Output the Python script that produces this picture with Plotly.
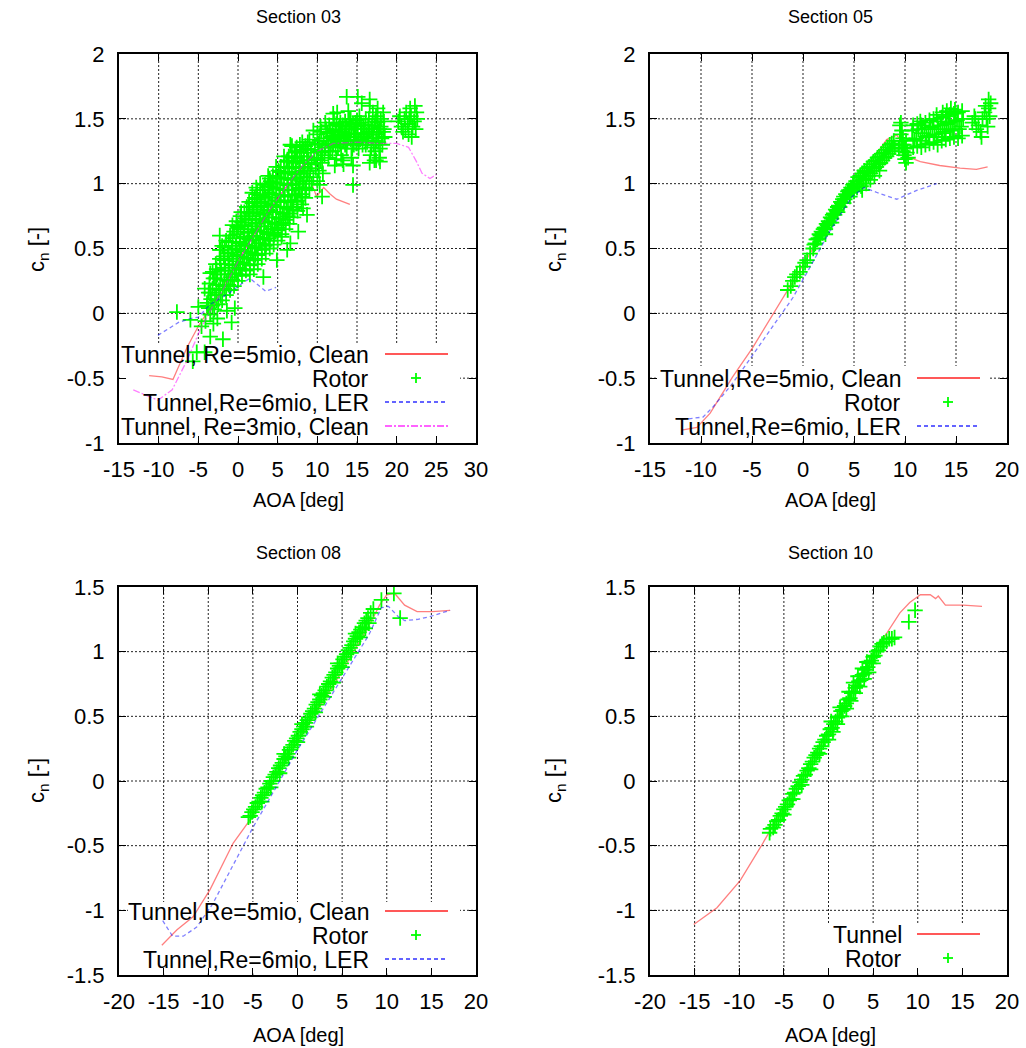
import plotly.graph_objects as go

W, H = 1026, 1048

# ---------------------------------------------------------------- tick labels
x_ticks_03 = [-15, -10, -5, 0, 5, 10, 15, 20, 25, 30]
x_ticktext_03 = ["-15", "-10", "-5", "0", "5", "10", "15", "20", "25", "30"]
x_ticks_05 = [-15, -10, -5, 0, 5, 10, 15, 20]
x_ticktext_05 = ["-15", "-10", "-5", "0", "5", "10", "15", "20"]
x_ticks_bot = [-20, -15, -10, -5, 0, 5, 10, 15, 20]
x_ticktext_bot = ["-20", "-15", "-10", "-5", "0", "5", "10", "15", "20"]
y_ticks_top = [-1, -0.5, 0, 0.5, 1, 1.5, 2]
y_ticktext_top = ["-1", "-0.5", "0", "0.5", "1", "1.5", "2"]
y_ticks_bot = [-1.5, -1, -0.5, 0, 0.5, 1, 1.5]
y_ticktext_bot = ["-1.5", "-1", "-0.5", "0", "0.5", "1", "1.5"]

# ---------------------------------------------------------------- Section 03
tun03_re5_aoa = [-11.2, -9.6, -8.2, -7.3, -6.4, -5.0, -3.5, -2.0, 0.0, 2.0, 4.0, 6.0, 8.0, 8.8, 9.3, 9.9, 10.8, 11.6, 12.4, 14.1]
tun03_re5_cn = [-0.48, -0.49, -0.51, -0.38, -0.26, -0.10, 0.04, 0.19, 0.41, 0.61, 0.80, 0.97, 1.11, 1.16, 1.00, 0.90, 0.97, 0.92, 0.88, 0.84]
tun03_ler_aoa = [-10.1, -7.5, -6.0, -5.0, -3.5, -2.0, -1.0, 0.5, 1.5, 2.5, 3.5, 4.8]
tun03_ler_cn = [-0.17, -0.07, -0.04, -0.03, 0.07, 0.12, 0.16, 0.23, 0.27, 0.22, 0.17, 0.20]
tun03_re3_aoa = [-13.2, -10.1, -8.3, -6.4, -4.8, -3.5, -1.9, 0.0, 2.0, 4.0, 6.0, 8.0, 10.0, 12.0, 15.0, 18.0, 20.0, 21.5, 22.5, 23.2, 24.2, 25.0]
tun03_re3_cn = [-0.59, -0.67, -0.59, -0.36, -0.13, 0.02, 0.18, 0.40, 0.60, 0.80, 0.97, 1.13, 1.25, 1.31, 1.32, 1.31, 1.31, 1.28, 1.17, 1.08, 1.04, 1.07]
rotor03 = [
    (-7.7, 0.01), (-6.0, -0.05), (-5.7, -0.37), (-5.2, -0.30), (-5.0, 0.05), (-4.6, -0.10), (-4.2, -0.30),
    (-3.9, 0.06), (-3.5, -0.18), (-3.5, 0.16), (-3.5, 0.31), (-3.1, -0.08), (-2.9, 0.27), (-2.6, -0.04),
    (-2.3, 0.49), (-2.3, 0.60), (-1.9, -0.20), (-1.4, 0.02), (-0.8, -0.07), (-0.4, 0.04), (-0.1, 0.67),
    (-4.1, -0.06), (-3.9, 0.08), (-4.2, 0.19), (-3.5, -0.01), (-3.4, 0.11), (-3.6, 0.23),
    (-3.0, 0.03), (-2.9, 0.14), (-3.1, 0.27), (-2.8, 0.38), (-2.5, 0.07), (-2.4, 0.18), (-2.6, 0.30), (-2.3, 0.42),
    (-2.0, 0.10), (-1.9, 0.21), (-2.1, 0.33), (-1.8, 0.44), (-2.0, 0.52),
    (-1.5, 0.14), (-1.4, 0.25), (-1.6, 0.35), (-1.3, 0.46), (-1.5, 0.56),
    (-1.0, 0.18), (-0.9, 0.28), (-1.1, 0.38), (-0.8, 0.49), (-1.0, 0.60),
    (-0.5, 0.21), (-0.4, 0.31), (-0.6, 0.42), (-0.3, 0.52), (-0.5, 0.63),
    (0.0, 0.25), (0.1, 0.35), (-0.1, 0.45), (0.2, 0.55), (0.0, 0.66),
    (0.5, 0.29), (0.6, 0.39), (0.4, 0.49), (0.7, 0.59), (0.5, 0.70), (0.4, 0.78),
    (1.0, 0.33), (1.1, 0.43), (0.9, 0.53), (1.2, 0.63), (1.0, 0.73), (1.1, 0.82),
    (1.5, 0.37), (1.6, 0.47), (1.4, 0.57), (1.7, 0.67), (1.5, 0.77), (1.4, 0.86),
    (2.0, 0.41), (2.1, 0.51), (1.9, 0.60), (2.2, 0.70), (2.0, 0.80), (2.1, 0.89),
    (2.5, 0.45), (2.6, 0.54), (2.4, 0.64), (2.7, 0.73), (2.5, 0.83), (2.4, 0.92),
    (3.0, 0.49), (3.1, 0.58), (2.9, 0.67), (3.2, 0.77), (3.0, 0.86), (3.1, 0.95),
    (3.5, 0.53), (3.6, 0.62), (3.4, 0.71), (3.7, 0.80), (3.5, 0.90), (3.4, 0.99),
    (4.0, 0.56), (4.1, 0.65), (3.9, 0.74), (4.2, 0.84), (4.0, 0.93), (4.1, 1.02),
    (4.5, 0.60), (4.6, 0.69), (4.4, 0.78), (4.7, 0.87), (4.5, 0.97), (4.4, 1.06),
    (5.0, 0.64), (5.1, 0.73), (4.9, 0.82), (5.2, 0.91), (5.0, 1.00), (5.1, 1.10),
    (5.5, 0.68), (5.6, 0.77), (5.4, 0.86), (5.7, 0.95), (5.5, 1.04), (5.4, 1.13),
    (6.0, 0.72), (6.1, 0.81), (5.9, 0.90), (6.2, 0.99), (6.0, 1.08), (6.1, 1.17),
    (6.5, 0.77), (6.6, 0.86), (6.4, 0.95), (6.7, 1.03), (6.5, 1.12), (6.4, 1.21),
    (7.0, 0.82), (7.1, 0.91), (6.9, 0.99), (7.2, 1.07), (7.0, 1.16), (7.1, 1.24),
    (7.5, 0.87), (7.6, 0.96), (7.4, 1.04), (7.7, 1.12), (7.5, 1.20), (7.4, 1.28),
    (8.0, 0.92), (8.1, 1.00), (7.9, 1.08), (8.2, 1.16), (8.0, 1.24), (8.1, 1.32),
    (8.5, 0.97), (8.6, 1.05), (8.4, 1.13), (8.7, 1.21), (8.5, 1.29),
    (9.0, 1.02), (9.1, 1.10), (8.9, 1.18), (9.2, 1.26), (9.0, 1.34),
    (-3.7, 0.04), (-3.7, 0.16), (-3.2, 0.06), (-3.2, 0.19), (-3.2, 0.32), (-2.7, 0.10), (-2.7, 0.22), (-2.7, 0.34),
    (-2.2, 0.14), (-2.2, 0.26), (-2.2, 0.38), (-2.2, 0.49), (-1.7, 0.19), (-1.7, 0.30), (-1.7, 0.41), (-1.7, 0.51),
    (-1.2, 0.22), (-1.2, 0.33), (-1.2, 0.44), (-1.2, 0.55), (-0.7, 0.26), (-0.7, 0.37), (-0.7, 0.47), (-0.7, 0.58),
    (-0.7, 0.68), (-0.2, 0.30), (-0.2, 0.40), (-0.2, 0.50), (-0.2, 0.61), (-0.2, 0.71), (0.3, 0.34), (0.3, 0.44),
    (0.3, 0.54), (0.3, 0.65), (0.3, 0.75), (0.8, 0.38), (0.8, 0.48), (0.8, 0.58), (0.8, 0.68), (0.8, 0.78),
    (1.3, 0.42), (1.3, 0.52), (1.3, 0.62), (1.3, 0.72), (1.3, 0.82), (1.8, 0.46), (1.8, 0.56), (1.8, 0.65),
    (1.8, 0.75), (1.8, 0.85), (1.8, 0.93), (2.3, 0.50), (2.3, 0.59), (2.3, 0.69), (2.3, 0.78), (2.3, 0.88),
    (2.3, 0.97), (2.8, 0.54), (2.8, 0.63), (2.8, 0.72), (2.8, 0.82), (2.8, 0.91), (2.8, 1.00), (3.3, 0.57),
    (3.3, 0.67), (3.3, 0.76), (3.3, 0.85), (3.3, 0.95), (3.8, 0.61), (3.8, 0.70), (3.8, 0.79), (3.8, 0.89),
    (3.8, 0.98), (3.8, 1.06), (4.3, 0.65), (4.3, 0.74), (4.3, 0.83), (4.3, 0.92), (4.3, 1.01), (4.8, 0.69),
    (4.8, 0.78), (4.8, 0.87), (4.8, 0.96), (4.8, 1.05), (4.8, 1.13), (5.3, 0.73), (5.3, 0.82), (5.3, 0.91),
    (5.3, 1.00), (5.3, 1.09), (5.8, 0.77), (5.8, 0.86), (5.8, 0.95), (5.8, 1.04), (5.8, 1.13), (5.8, 1.21),
    (6.3, 0.82), (6.3, 0.91), (6.3, 0.99), (6.3, 1.08), (6.3, 1.17), (6.8, 0.87), (6.8, 0.95), (6.8, 1.04),
    (6.8, 1.12), (6.8, 1.20), (6.8, 1.29), (7.3, 0.92), (7.3, 1.00), (7.3, 1.09), (7.3, 1.17), (7.3, 1.25),
    (7.8, 0.97), (7.8, 1.05), (7.8, 1.13), (7.8, 1.21), (7.8, 1.30), (8.3, 1.02), (8.3, 1.10), (8.3, 1.18),
    (8.3, 1.26), (8.8, 1.08), (8.8, 1.16), (8.8, 1.24), (8.8, 1.32),
    (1.5, 0.30), (2.0, 0.34), (2.5, 0.38), (3.0, 0.42), (3.5, 0.46), (4.0, 0.50), (4.5, 0.53), (5.0, 0.56),
    (5.5, 0.61), (6.0, 0.65), (6.5, 0.69), (7.0, 0.74), (7.5, 0.79), (8.0, 0.84), (8.5, 0.89), (9.0, 0.95),
    (2.2, 0.45), (3.4, 0.52), (4.6, 0.62), (5.7, 0.70), (6.9, 0.80), (8.1, 0.90), (9.3, 1.00), (3.9, 0.58),
    (5.1, 0.66), (6.3, 0.75), (7.4, 0.86), (8.6, 0.96),
    (3.2, 0.28), (4.9, 0.41), (5.5, 0.59), (6.2, 0.49), (6.6, 0.54), (7.6, 0.63), (8.2, 0.81), (8.7, 0.76), (10.6, 0.90),
    (2.4, 0.95), (4.0, 1.04), (6.2, 1.18), (6.6, 1.30), (8.7, 1.27),
    (9.5, 1.05), (9.6, 1.20), (9.8, 1.12), (9.7, 1.30), (10.0, 1.02), (10.0, 1.38), (10.1, 1.25), (10.2, 1.10),
    (10.3, 0.99), (10.3, 1.33), (10.4, 1.18), (10.4, 1.44), (10.5, 1.40), (10.6, 1.16), (10.6, 1.28), (10.7, 1.08),
    (10.8, 1.35), (10.9, 1.22), (11.0, 1.47), (9.3, 1.15), (9.5, 1.41), (9.9, 1.19), (10.2, 1.31), (10.5, 1.24),
    (11.0, 1.28), (11.2, 1.33), (11.4, 1.20), (11.5, 1.45), (11.6, 1.25), (11.8, 1.36), (12.0, 1.30), (12.1, 1.50),
    (12.3, 1.41), (12.4, 1.19), (12.5, 1.55), (12.6, 1.28), (12.8, 1.35), (12.9, 1.47), (13.0, 1.22), (13.2, 1.45),
    (13.3, 1.15), (13.5, 1.30), (13.6, 1.38), (13.8, 1.33), (13.9, 1.56), (14.0, 1.50), (14.1, 1.42), (14.3, 1.20),
    (14.4, 1.27), (14.6, 1.36), (14.8, 1.47), (14.9, 1.31), (15.1, 1.44), (15.3, 1.52), (15.5, 1.39), (15.7, 1.30),
    (15.8, 1.45), (11.9, 1.42), (12.2, 1.34), (12.7, 1.40), (13.4, 1.37), (14.2, 1.34), (14.7, 1.42), (15.4, 1.34),
    (13.7, 1.44), (15.0, 1.38), (12.2, 1.14), (14.5, 1.14), (13.2, 1.18),
    (11.3, 1.39), (11.7, 1.31), (12.0, 1.37), (12.4, 1.46), (12.9, 1.31), (13.1, 1.40), (13.5, 1.48), (13.9, 1.36),
    (14.3, 1.44), (14.6, 1.30), (15.0, 1.49), (15.2, 1.33), (15.6, 1.42), (11.6, 1.40), (12.6, 1.36), (14.0, 1.39),
    (11.1, 1.42), (11.9, 1.25), (12.3, 1.29), (12.8, 1.44), (13.3, 1.33), (13.7, 1.27), (14.5, 1.46), (15.2, 1.27),
    (15.8, 1.36), (16.0, 1.42), (16.1, 1.30), (11.4, 1.30), (12.5, 1.33), (13.0, 1.38), (14.2, 1.50), (14.8, 1.38),
    (15.5, 1.47), (16.1, 1.50),
    (16.3, 1.32), (16.6, 1.40), (16.9, 1.35), (17.2, 1.45), (17.5, 1.38), (17.8, 1.42), (18.1, 1.35), (18.4, 1.48),
    (16.5, 1.50), (16.8, 1.28), (17.1, 1.30), (17.4, 1.52), (17.7, 1.32), (18.0, 1.50), (18.3, 1.40), (16.4, 1.45),
    (17.0, 1.55), (17.6, 1.58), (18.2, 1.30), (16.7, 1.22), (17.3, 1.25), (17.9, 1.27), (18.5, 1.36), (16.2, 1.38),
    (16.6, 1.60), (17.8, 1.20), (17.2, 1.18), (16.9, 1.45), (17.6, 1.47), (18.3, 1.55), (16.6, 1.16), (17.9, 1.17),
    (16.4, 1.35), (16.8, 1.42), (17.1, 1.38), (17.4, 1.33), (17.7, 1.40), (18.0, 1.44), (18.4, 1.42), (17.3, 1.48),
    (20.2, 1.48), (20.6, 1.44), (21.0, 1.50), (21.4, 1.46), (21.8, 1.52), (22.2, 1.48), (22.5, 1.55), (21.2, 1.55),
    (21.7, 1.58), (22.4, 1.42), (20.8, 1.40), (21.5, 1.38), (22.0, 1.44), (20.4, 1.52), (22.6, 1.50), (21.9, 1.36),
    (21.1, 1.42), (22.3, 1.60), (21.6, 1.50),
    (13.7, 1.67), (15.1, 1.67), (15.6, 1.62), (16.6, 1.65), (12.0, 1.54), (14.5, 0.99), (17.4, 1.18),
]

# ---------------------------------------------------------------- Section 05
tun05_re5_aoa = [-11.9, -10.4, -9.1, -8.0, -6.9, -4.9, -2.9, -1.3, 1.0, 3.0, 4.9, 6.5, 7.3, 8.2, 9.2, 9.6, 10.2, 11.5, 13.4, 15.4, 17.0, 18.1]
tun05_re5_cn = [-0.90, -0.88, -0.77, -0.63, -0.49, -0.26, 0.00, 0.20, 0.51, 0.76, 1.00, 1.16, 1.24, 1.34, 1.375, 1.33, 1.21, 1.17, 1.14, 1.12, 1.11, 1.13]
tun05_ler_aoa = [-11.9, -9.8, -8.8, -7.0, -5.0, -3.0, -1.0, 1.0, 2.6, 4.8, 6.0, 7.3, 9.2, 11.2, 13.1]
tun05_ler_cn = [-0.82, -0.80, -0.72, -0.55, -0.33, -0.10, 0.12, 0.40, 0.63, 0.90, 0.97, 0.93, 0.88, 0.95, 1.00]
rotor05 = [
    (-1.5, 0.18), (-1.2, 0.21), (-1.0, 0.25), (-0.8, 0.28), (-0.6, 0.30), (-0.3, 0.32), (0.0, 0.36), (0.2, 0.39),
    (0.4, 0.41), (0.7, 0.46),
    (1.0, 0.50), (1.1, 0.53), (1.2, 0.54), (1.3, 0.57), (1.4, 0.57), (1.5, 0.58), (1.6, 0.61), (1.7, 0.60),
    (1.8, 0.63), (1.9, 0.62), (2.0, 0.65), (2.1, 0.66), (2.2, 0.65), (2.3, 0.69), (2.4, 0.68), (2.5, 0.71),
    (2.6, 0.70), (2.7, 0.74), (2.8, 0.73), (2.9, 0.76), (3.0, 0.77), (3.1, 0.76), (3.2, 0.80), (3.3, 0.79),
    (3.4, 0.82), (3.5, 0.83), (3.6, 0.82), (3.7, 0.86), (3.8, 0.85), (3.9, 0.88), (4.0, 0.90), (4.1, 0.88),
    (4.2, 0.92), (4.3, 0.91), (4.4, 0.94), (4.5, 0.95), (4.6, 0.93), (4.7, 0.97), (4.8, 0.96), (4.9, 0.99), (5.0, 1.00),
    (2.2, 0.61), (2.8, 0.70), (3.4, 0.78), (4.0, 0.85), (4.6, 0.90), (5.0, 0.94),
    (5.2, 1.02), (5.3, 0.97), (5.4, 1.05), (5.5, 1.00), (5.6, 1.06), (5.7, 0.98), (5.8, 1.08), (5.9, 1.03),
    (6.0, 1.10), (6.1, 1.04), (6.2, 1.09), (6.3, 1.12), (6.4, 1.06), (6.5, 1.13), (6.6, 1.08), (6.7, 1.15),
    (6.8, 1.10), (6.9, 1.17), (7.0, 1.12), (7.1, 1.18), (7.2, 1.13), (7.3, 1.20), (7.4, 1.15), (7.5, 1.21),
    (7.6, 1.16), (7.7, 1.23), (7.8, 1.18), (7.9, 1.24), (8.0, 1.20), (8.1, 1.26), (8.2, 1.21), (8.3, 1.28),
    (8.4, 1.23), (8.5, 1.30), (8.6, 1.25), (8.7, 1.31), (8.8, 1.27), (8.9, 1.33), (9.0, 1.28),
    (5.8, 0.95), (6.6, 1.03), (7.0, 1.06), (7.5, 1.10), (6.2, 1.00),
    (9.4, 1.27), (9.5, 1.45), (9.5, 1.33), (9.6, 1.38), (9.7, 1.41), (9.7, 1.30), (9.8, 1.25), (9.8, 1.35),
    (9.9, 1.22), (9.9, 1.30), (10.0, 1.19), (10.0, 1.27), (10.1, 1.16), (10.2, 1.24), (10.3, 1.20), (9.6, 1.47),
    (10.1, 1.33),
    (10.8, 1.28), (10.9, 1.34), (10.7, 1.41), (10.8, 1.45), (11.2, 1.29), (11.1, 1.35), (11.3, 1.42), (11.2, 1.46),
    (11.6, 1.28), (11.5, 1.33), (11.7, 1.39), (11.6, 1.45), (11.5, 1.48), (12.0, 1.30), (12.1, 1.36), (11.9, 1.42),
    (12.0, 1.47), (12.4, 1.31), (12.3, 1.37), (12.5, 1.43), (12.4, 1.49), (12.8, 1.32), (12.9, 1.38), (12.7, 1.44),
    (12.8, 1.50), (13.2, 1.30), (13.1, 1.36), (13.3, 1.42), (13.2, 1.48), (13.1, 1.53), (13.6, 1.33), (13.7, 1.39),
    (13.5, 1.45), (13.6, 1.51), (13.7, 1.55), (14.0, 1.34), (13.9, 1.40), (14.1, 1.46), (14.0, 1.52), (14.1, 1.56),
    (14.4, 1.35), (14.5, 1.41), (14.3, 1.47), (14.4, 1.53), (14.5, 1.58), (14.8, 1.36), (14.7, 1.42), (14.9, 1.48),
    (14.8, 1.54), (14.9, 1.57), (15.2, 1.35), (15.3, 1.42), (15.1, 1.49), (15.2, 1.55), (15.6, 1.37), (15.5, 1.44),
    (15.7, 1.50), (15.6, 1.56),
    (16.6, 1.47), (16.9, 1.50), (17.2, 1.45), (17.4, 1.40), (17.6, 1.50), (17.8, 1.55), (18.0, 1.50), (18.2, 1.58),
    (18.4, 1.62), (18.1, 1.44), (17.9, 1.60), (18.3, 1.52), (17.0, 1.42), (16.8, 1.52), (18.2, 1.65), (17.5, 1.36),
]

# ---------------------------------------------------------------- Section 08
tun08_re5_aoa = [-15.2, -13.5, -11.7, -9.8, -7.2, -5.1, 0.0, 5.0, 8.0, 9.2, 10.0, 10.9, 12.0, 13.4, 15.1, 17.1]
tun08_re5_cn = [-1.27, -1.15, -1.05, -0.84, -0.48, -0.28, 0.30, 0.85, 1.20, 1.36, 1.44, 1.45, 1.36, 1.31, 1.31, 1.32]
tun08_ler_aoa = [-15.1, -14.0, -12.8, -11.3, -9.5, -7.9, -5.0, 0.0, 5.0, 8.0, 9.4, 10.2, 11.3, 12.0, 13.5, 14.8, 17.1]
tun08_ler_cn = [-1.08, -1.20, -1.20, -1.13, -0.95, -0.74, -0.36, 0.24, 0.80, 1.13, 1.34, 1.35, 1.27, 1.24, 1.25, 1.27, 1.32]
rotor08 = [
    (-5.5, -0.28), (-5.3, -0.27), (-5.1, -0.24), (-4.9, -0.22), (-4.7, -0.20), (-4.5, -0.17), (-4.3, -0.16),
    (-4.1, -0.13), (-3.9, -0.11), (-3.7, -0.09), (-3.5, -0.06), (-3.3, -0.05), (-3.1, -0.02), (-2.9, 0.00),
    (-2.7, 0.03), (-2.5, 0.05), (-2.3, 0.07), (-2.1, 0.10), (-1.9, 0.12), (-1.7, 0.14), (-1.5, 0.17), (-1.3, 0.19),
    (-1.1, 0.21), (-0.9, 0.24), (-0.7, 0.26), (-0.5, 0.28), (-0.3, 0.31), (-0.1, 0.33), (0.1, 0.35), (0.3, 0.38),
    (0.5, 0.40), (0.7, 0.42), (0.9, 0.45), (1.1, 0.47), (1.3, 0.49), (1.5, 0.52), (1.7, 0.54), (1.9, 0.56),
    (2.1, 0.59), (2.3, 0.61), (2.5, 0.63), (2.7, 0.66), (2.9, 0.68), (3.1, 0.70), (3.3, 0.73), (3.5, 0.75),
    (3.7, 0.77), (3.9, 0.80), (4.1, 0.82), (4.3, 0.84), (4.5, 0.87), (4.7, 0.89), (4.9, 0.91), (5.1, 0.94),
    (5.3, 0.96), (5.5, 0.98), (5.7, 1.01), (5.9, 1.03), (6.1, 1.05), (6.3, 1.08), (6.5, 1.10), (6.7, 1.12),
    (6.9, 1.15), (7.1, 1.17), (7.3, 1.19), (7.5, 1.22), (7.7, 1.24), (7.9, 1.26), (8.2, 1.30), (8.5, 1.33),
    (-4.0, -0.16), (-3.0, -0.05), (-2.0, 0.06), (-1.0, 0.18), (0.0, 0.30), (1.0, 0.42), (2.0, 0.53), (3.0, 0.65),
    (4.0, 0.76), (5.0, 0.88), (6.0, 0.99), (7.0, 1.11), (-1.5, 0.21), (0.5, 0.44), (2.5, 0.67), (4.5, 0.91),
    (6.5, 1.14), (7.6, 1.18), (8.0, 1.22),
    (9.4, 1.40), (10.8, 1.45), (11.5, 1.26),
]

# ---------------------------------------------------------------- Section 10
tun10_aoa = [-15.1, -12.5, -9.9, -7.6, -5.0, 0.0, 5.0, 8.0, 9.1, 10.3, 11.4, 12.0, 12.3, 13.1, 15.1, 17.2]
tun10_cn = [-1.11, -0.98, -0.77, -0.51, -0.20, 0.38, 0.98, 1.30, 1.38, 1.44, 1.44, 1.41, 1.43, 1.36, 1.36, 1.35]
rotor10 = [
    (-6.6, -0.40), (-6.5, -0.37), (-6.2, -0.36), (-6.0, -0.34), (-5.8, -0.31), (-5.6, -0.30), (-5.4, -0.27),
    (-5.2, -0.25), (-5.0, -0.22), (-4.8, -0.20), (-4.6, -0.18), (-4.4, -0.15), (-4.2, -0.14), (-4.0, -0.10),
    (-3.8, -0.09), (-3.6, -0.06), (-3.4, -0.04), (-3.2, -0.01), (-3.0, 0.01), (-2.8, 0.04), (-2.6, 0.05),
    (-2.4, 0.08), (-2.2, 0.10), (-2.0, 0.13), (-1.8, 0.15), (-1.6, 0.18), (-1.4, 0.20), (-1.2, 0.22),
    (-1.0, 0.25), (-0.8, 0.27), (-0.6, 0.30), (-0.4, 0.32), (-0.2, 0.35), (0.0, 0.36), (0.2, 0.40), (0.4, 0.41),
    (0.6, 0.44), (0.8, 0.46), (1.0, 0.49), (1.2, 0.50), (1.4, 0.54), (1.6, 0.55), (1.8, 0.58), (2.0, 0.60),
    (2.2, 0.63), (2.4, 0.64), (2.6, 0.68), (2.8, 0.69), (3.0, 0.72), (3.2, 0.74), (3.4, 0.77), (3.6, 0.78),
    (3.8, 0.82), (4.0, 0.83), (4.2, 0.86), (4.4, 0.88), (4.6, 0.91), (4.8, 0.93), (5.0, 0.96), (5.2, 0.97),
    (5.4, 1.00), (5.6, 1.01),
    (-5.0, -0.26), (-4.0, -0.14), (-3.0, -0.03), (-2.0, 0.09), (-1.0, 0.21), (0.0, 0.32), (0.5, 0.38), (1.0, 0.44),
    (1.5, 0.50), (2.0, 0.56), (2.5, 0.62), (3.0, 0.68), (3.5, 0.73), (4.0, 0.79), (4.5, 0.84), (5.0, 0.91),
    (0.3, 0.46), (1.3, 0.57), (2.3, 0.69), (3.3, 0.81), (4.3, 0.92), (2.8, 0.76), (3.8, 0.87),
    (5.8, 1.04), (6.0, 1.06), (6.2, 1.07), (6.5, 1.08), (6.8, 1.10), (7.1, 1.10), (7.4, 1.11),
    (9.0, 1.23), (9.7, 1.32),
]

# ---------------------------------------------------------------- styling
FONT = "Liberation Sans, Arial, Helvetica, sans-serif"
RED = "rgba(255,0,0,0.5)"
BLUE = "rgba(0,0,255,0.5)"
MAG = "rgba(255,0,255,0.5)"
GREEN = "#00ff00"
GRID = "#222222"
DASH_BLUE = "4px,3px"
DASH_MAG = "7px,2px,2px,2px"


def px_x(p):
    return p / W


def px_y(p):
    return 1 - p / H


fig = go.Figure()


def line_trace(xs, ys, ax, color, dash):
    fig.add_trace(go.Scatter(x=xs, y=ys, mode="lines", xaxis="x" + ax, yaxis="y" + ax,
                             line=dict(color=color, width=1.3, dash=dash), showlegend=False,
                             hoverinfo="skip"))


def rotor_trace(pts, ax):
    fig.add_trace(go.Scatter(x=[p[0] for p in pts], y=[p[1] for p in pts], mode="markers",
                             xaxis="x" + ax, yaxis="y" + ax, showlegend=False,
                             marker=dict(symbol="cross-thin", size=11,
                                         line=dict(color=GREEN, width=1.8))))


# panel 1 (Section 03)
line_trace(tun03_re5_aoa, tun03_re5_cn, "", RED, "solid")
rotor_trace(rotor03, "")
line_trace(tun03_ler_aoa, tun03_ler_cn, "", BLUE, DASH_BLUE)
line_trace(tun03_re3_aoa, tun03_re3_cn, "", MAG, DASH_MAG)
# panel 2 (Section 05)
line_trace(tun05_re5_aoa, tun05_re5_cn, "2", RED, "solid")
rotor_trace(rotor05, "2")
line_trace(tun05_ler_aoa, tun05_ler_cn, "2", BLUE, DASH_BLUE)
# panel 3 (Section 08)
line_trace(tun08_re5_aoa, tun08_re5_cn, "3", RED, "solid")
rotor_trace(rotor08, "3")
line_trace(tun08_ler_aoa, tun08_ler_cn, "3", BLUE, DASH_BLUE)
# panel 4 (Section 10)
line_trace(tun10_aoa, tun10_cn, "4", RED, "solid")
rotor_trace(rotor10, "4")

LEFT = (119, 476)
RIGHT = (650, 1007)
TOP = (54, 443)
BOT = (587, 975)

panels = [
    ("", LEFT, TOP, [-15, 30], [-1, 2], x_ticks_03, x_ticktext_03, y_ticks_top, y_ticktext_top),
    ("2", RIGHT, TOP, [-15, 20], [-1, 2], x_ticks_05, x_ticktext_05, y_ticks_top, y_ticktext_top),
    ("3", LEFT, BOT, [-20, 20], [-1.5, 1.5], x_ticks_bot, x_ticktext_bot, y_ticks_bot, y_ticktext_bot),
    ("4", RIGHT, BOT, [-20, 20], [-1.5, 1.5], x_ticks_bot, x_ticktext_bot, y_ticks_bot, y_ticktext_bot),
]

axis_common = dict(showgrid=False, showline=True, linecolor="black", linewidth=2, mirror="allticks",
                   ticks="inside", ticklen=7, tickwidth=1, tickcolor="black", zeroline=False,
                   automargin=False, tickfont=dict(family=FONT, size=22, color="black"))

layout_axes = {}
shapes = []
for ax, xd, yd, xr, yr, xt, xtt, yt, ytt in panels:
    layout_axes["xaxis" + ax] = dict(axis_common, domain=[px_x(xd[0]), px_x(xd[1])], range=xr,
                                     tickvals=xt, ticktext=xtt, anchor="y" + ax,
                                     ticklabelstandoff=6)
    layout_axes["yaxis" + ax] = dict(axis_common, domain=[px_y(yd[1]), px_y(yd[0])], range=yr,
                                     tickvals=yt, ticktext=ytt, anchor="x" + ax,
                                     ticklabelstandoff=8)
    # dotted grid (drawn as shapes so the key box can mask it)
    for v in xt[1:-1]:
        shapes.append(dict(type="line", xref="x" + ax, yref="y" + ax + " domain", x0=v, x1=v,
                           y0=0, y1=1, layer="below", line=dict(color=GRID, width=1, dash="2px,2px")))
    for v in yt[1:-1]:
        shapes.append(dict(type="line", xref="x" + ax + " domain", yref="y" + ax, x0=0, x1=1,
                           y0=v, y1=v, layer="below", line=dict(color=GRID, width=1, dash="2px,2px")))

fig.update_layout(width=W, height=H, margin=dict(l=0, r=0, t=0, b=0, autoexpand=False),
                  plot_bgcolor="white", paper_bgcolor="white", showlegend=False,
                  font=dict(family=FONT, color="black"), **layout_axes)

annotations = []

for txt, cx, cy in [("Section 03", 298, 17), ("Section 05", 830, 17),
                    ("Section 08", 298, 553), ("Section 10", 830, 553)]:
    annotations.append(dict(text=txt, x=px_x(cx), y=px_y(cy), xref="paper", yref="paper",
                            showarrow=False, xanchor="center", yanchor="middle",
                            font=dict(family=FONT, size=18, color="black")))
for cx, cy in [(298, 500), (830, 500), (298, 1035), (830, 1035)]:
    annotations.append(dict(text="AOA [deg]", x=px_x(cx), y=px_y(cy), xref="paper", yref="paper",
                            showarrow=False, xanchor="center", yanchor="middle",
                            font=dict(family=FONT, size=20, color="black")))
for cx, cy in [(38, 250), (555, 250), (38, 781), (555, 781)]:
    annotations.append(dict(text="c<sub>n</sub> [-]", x=px_x(cx), y=px_y(cy), xref="paper",
                            yref="paper", showarrow=False, textangle=-90, xanchor="center",
                            yanchor="middle", font=dict(family=FONT, size=22, color="black")))

legend_specs = [
    ("", LEFT, TOP, (120, 460, 343), 370, (385, 448), 416,
     [("Tunnel, Re=5mio, Clean", "red", 354), ("Rotor", "plus", 378),
      ("Tunnel,Re=6mio, LER", "blue", 402), ("Tunnel, Re=3mio, Clean", "mag", 426)]),
    ("2", RIGHT, TOP, (658, 990, 366), 902, (917, 980), 948,
     [("Tunnel,Re=5mio, Clean", "red", 378), ("Rotor", "plus", 402),
      ("Tunnel,Re=6mio, LER", "blue", 426)]),
    ("3", LEFT, BOT, (128, 460, 902), 370, (385, 448), 416,
     [("Tunnel,Re=5mio, Clean", "red", 911), ("Rotor", "plus", 935),
      ("Tunnel,Re=6mio, LER", "blue", 959)]),
    ("4", RIGHT, BOT, (825, 990, 923), 903, (917, 980), 948,
     [("Tunnel", "red", 934), ("Rotor", "plus", 958)]),
]
sample_style = {"red": ("#ff2020", "solid"), "blue": ("#3030ff", DASH_BLUE), "mag": ("#ff30ff", DASH_MAG)}
for ax, xd, yd, box, tx, (sx0, sx1), plus_x, rows in legend_specs:
    bx0, bx1, by0 = box
    shapes.append(dict(type="rect", xref="x" + ax + " domain", yref="y" + ax + " domain",
                       x0=(bx0 - xd[0]) / (xd[1] - xd[0]), x1=(bx1 - xd[0]) / (xd[1] - xd[0]),
                       y0=0.004, y1=(yd[1] - by0) / (yd[1] - yd[0]),
                       fillcolor="white", line=dict(width=0), layer="below"))
    for txt, kind, ry in rows:
        annotations.append(dict(text=txt, x=px_x(tx), y=px_y(ry), xref="paper", yref="paper",
                                showarrow=False, xanchor="right", yanchor="middle", borderpad=0,
                                height=23, valign="middle",
                                font=dict(family=FONT, size=23, color="black")))
        if kind == "plus":
            shapes.append(dict(type="line", xref="paper", yref="paper", x0=px_x(plus_x - 5),
                               x1=px_x(plus_x + 5), y0=px_y(ry), y1=px_y(ry),
                               line=dict(color=GREEN, width=1.8)))
            shapes.append(dict(type="line", xref="paper", yref="paper", x0=px_x(plus_x),
                               x1=px_x(plus_x), y0=px_y(ry - 5), y1=px_y(ry + 5),
                               line=dict(color=GREEN, width=1.8)))
        else:
            col, dash = sample_style[kind]
            shapes.append(dict(type="line", xref="paper", yref="paper", x0=px_x(sx0),
                               x1=px_x(sx1), y0=px_y(ry), y1=px_y(ry),
                               line=dict(color=col, width=1.4, dash=dash)))

fig.update_layout(annotations=annotations, shapes=shapes)
fig.write_html("out.html")
